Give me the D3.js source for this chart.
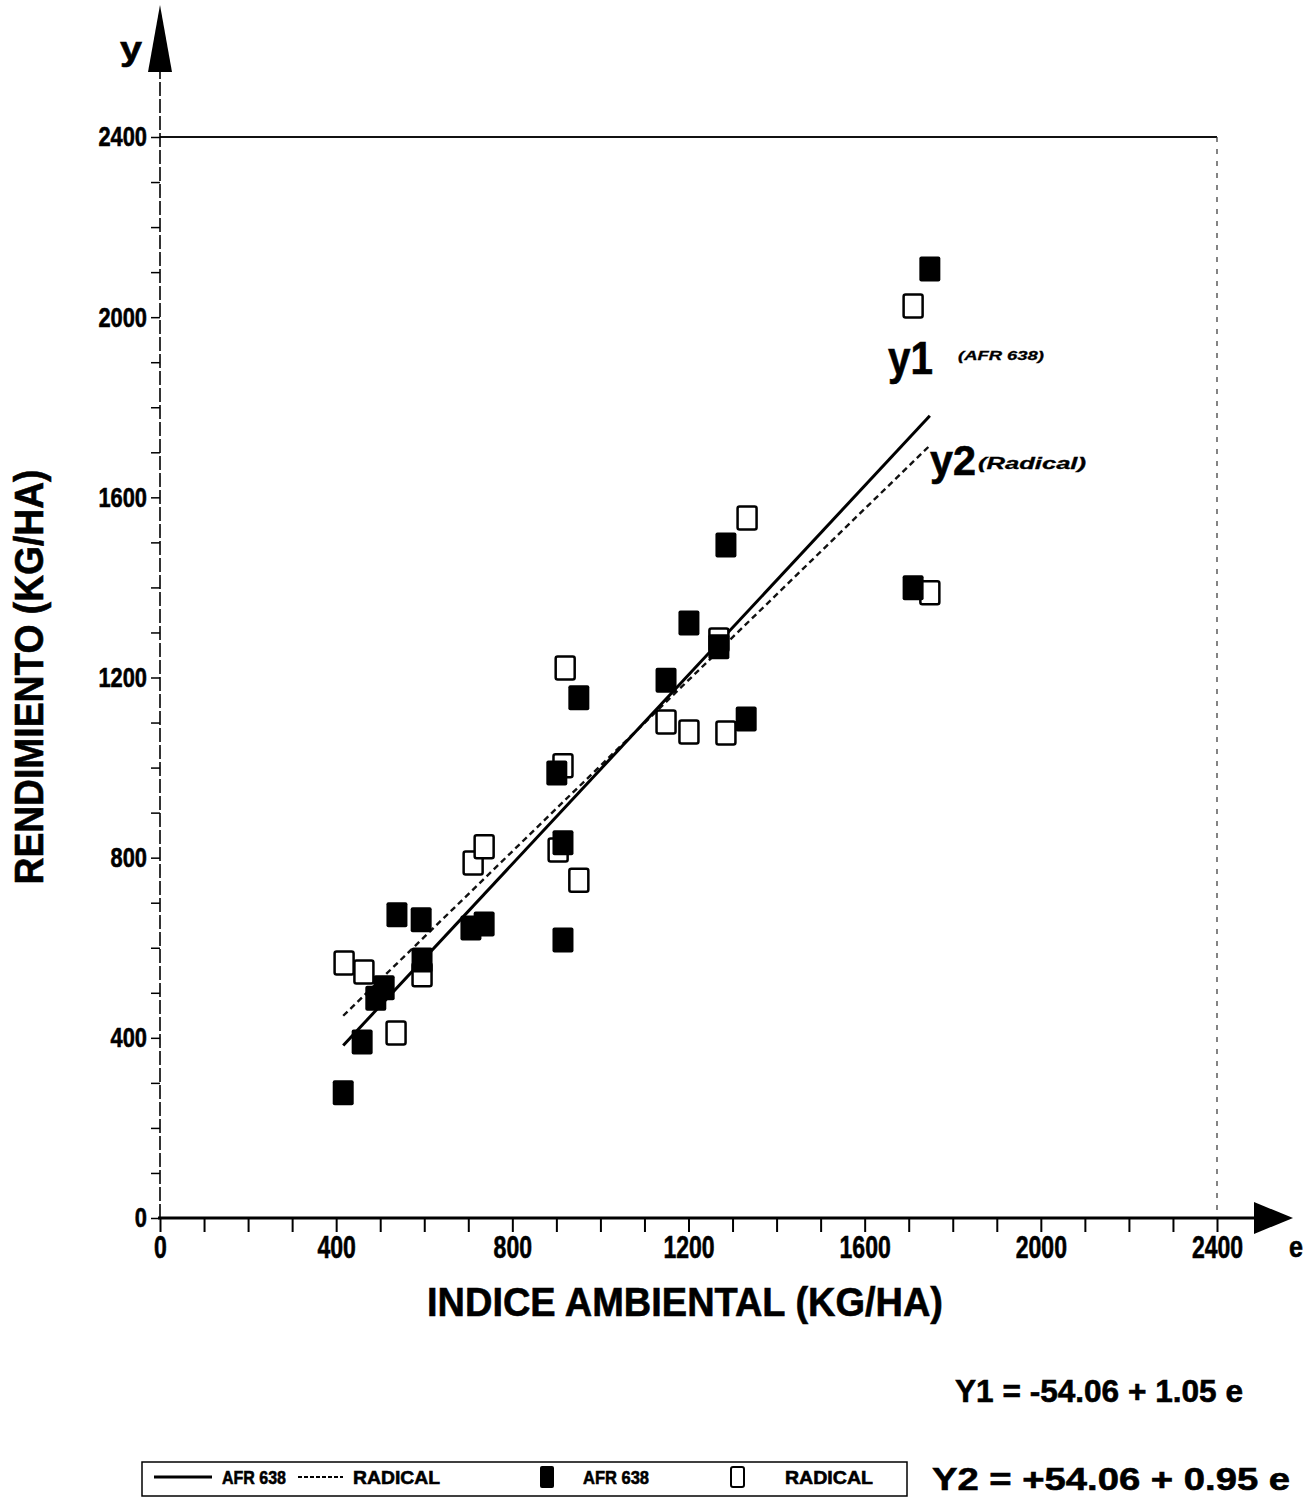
<!DOCTYPE html>
<html>
<head>
<meta charset="utf-8">
<script src="https://cdn.jsdelivr.net/npm/d3@7"></script>
<style>
	body { margin: 0; background: #fff; }
	svg text { font-family: "Liberation Sans", Arial, sans-serif; font-weight: bold; fill: #000; stroke: #000; stroke-width: 0.6px; }
</style>
</head>
<body>
<div id="chart"></div>
<script>
// environmental index (e) and yield for each genotype
const afrE = [416, 459, 490, 509, 538, 593, 595, 706, 736, 901, 915, 915, 951, 1149, 1201, 1269, 1285, 1331, 1710, 1748];
const afrYield = [278, 391, 488, 511, 673, 662, 573, 644, 653, 988, 833, 617, 1155, 1194, 1321, 1268, 1494, 1108, 1399, 2107];
const radE = [418, 463, 536, 595, 711, 736, 904, 951, 915, 920, 1149, 1201, 1285, 1333, 1269, 1710, 1748];
const radYield = [566, 546, 411, 540, 788, 824, 817, 750, 1004, 1221, 1101, 1079, 1077, 1554, 1283, 2025, 1388];

// regression lines, end points
const lineE = [416, 1748];
const lineY1 = [383, 1781];
const lineY2 = [449, 1715];

const xTicks = [0, 400, 800, 1200, 1600, 2000, 2400];
const yTicks = [0, 400, 800, 1200, 1600, 2000, 2400];
const eq1 = "Y1 = -54.06 + 1.05 e";
const eq2 = "Y2 = +54.06 + 0.95 e";

const width = 1306;
const height = 1512;

const svg = d3.select("#chart")
	.append("svg")
	.attr("width", width)
	.attr("height", height);

const x = d3.scaleLinear().domain([0, 2400]).range([160, 1217]);
const y = d3.scaleLinear().domain([0, 2400]).range([1218, 137]);

// top and right frame
svg.append("line")
	.attr("x1", x(0)).attr("x2", x(2400))
	.attr("y1", y(2400)).attr("y2", y(2400))
	.attr("stroke", "#111").attr("stroke-width", 2);

svg.append("line")
	.attr("x1", x(2400)).attr("x2", x(2400))
	.attr("y1", y(2400)).attr("y2", y(0))
	.attr("stroke", "#333").attr("stroke-width", 1.2)
	.attr("stroke-dasharray", "5,7");

// x axis
const xAxis = svg.append("g")
	.attr("transform", `translate(0, ${y(0)})`)
	.call(d3.axisBottom(x)
		.tickValues(d3.range(0, 2401, 100))
		.tickSize(14)
		.tickPadding(3)
		.tickFormat((d) => xTicks.includes(d) ? d : ""));
xAxis.select(".domain").remove();
xAxis.selectAll("line").attr("stroke", "#000").attr("stroke-width", 2);
xAxis.selectAll("text")
	.attr("font-size", 32)
	.attr("transform", "scale(0.72, 1)");

svg.append("line")
	.attr("x1", x(0) - 2).attr("x2", 1262)
	.attr("y1", y(0)).attr("y2", y(0))
	.attr("stroke", "#000").attr("stroke-width", 3);

svg.append("path")
	.attr("d", `M1254,${y(0) - 16}L1293,${y(0)}L1254,${y(0) + 16}Z`)
	.attr("fill", "#000");

// y axis
const yAxis = svg.append("g")
	.attr("transform", `translate(${x(0)}, 0)`)
	.call(d3.axisLeft(y)
		.tickValues(d3.range(0, 2401, 100))
		.tickSize(9)
		.tickPadding(4)
		.tickFormat((d) => yTicks.includes(d) ? d : ""));
yAxis.select(".domain").remove();
yAxis.selectAll("line").attr("stroke", "#000").attr("stroke-width", 1.5);
yAxis.selectAll("text")
	.attr("font-size", 28)
	.attr("x", -13 / 0.78)
	.attr("transform", "scale(0.78, 1)");

svg.append("line")
	.attr("x1", x(0)).attr("x2", x(0))
	.attr("y1", y(0)).attr("y2", 70)
	.attr("stroke", "#000").attr("stroke-width", 1.6)
	.attr("stroke-dasharray", "14,3");

svg.append("path")
	.attr("d", `M${x(0) - 12},72L${x(0)},5L${x(0) + 12},72Z`)
	.attr("fill", "#000");

svg.append("text")
	.attr("x", 120).attr("y", 60)
	.attr("font-size", 34)
	.attr("textLength", 22).attr("lengthAdjust", "spacingAndGlyphs")
	.text("y");

svg.append("text")
	.attr("x", 1289).attr("y", 1257)
	.attr("font-size", 30)
	.attr("textLength", 14).attr("lengthAdjust", "spacingAndGlyphs")
	.text("e");

// axis titles
svg.append("text")
	.attr("x", 685).attr("y", 1316)
	.attr("text-anchor", "middle")
	.attr("font-size", 40)
	.attr("textLength", 516).attr("lengthAdjust", "spacingAndGlyphs")
	.text("INDICE AMBIENTAL (KG/HA)");

svg.append("text")
	.attr("transform", "translate(43, 677) rotate(-90)")
	.attr("text-anchor", "middle")
	.attr("font-size", 40)
	.attr("textLength", 415).attr("lengthAdjust", "spacingAndGlyphs")
	.text("RENDIMIENTO (KG/HA)");

// regression lines
const line1 = lineE.map((e, i) => [x(e), y(lineY1[i])]);
const line2 = lineE.map((e, i) => [x(e), y(lineY2[i])]);

svg.append("path")
	.attr("d", d3.line()(line2))
	.attr("stroke", "#111").attr("stroke-width", 2.4)
	.attr("stroke-dasharray", "6,4")
	.attr("fill", "none");

svg.append("path")
	.attr("d", d3.line()(line1))
	.attr("stroke", "#000").attr("stroke-width", 3)
	.attr("fill", "none");

// points
const mw = 21;
const mh = 25;

svg.selectAll(".radical").data(radE).enter()
	.append("rect")
	.attr("class", "radical")
	.attr("x", (e) => x(e) - mw / 2 + 1)
	.attr("y", (e, i) => y(radYield[i]) - mh / 2 + 1)
	.attr("width", mw - 2).attr("height", mh - 2)
	.attr("rx", 2)
	.attr("fill", "#fff")
	.attr("stroke", "#000").attr("stroke-width", 2.5);

svg.selectAll(".afr").data(afrE).enter()
	.append("rect")
	.attr("class", "afr")
	.attr("x", (e) => x(e) - mw / 2)
	.attr("y", (e, i) => y(afrYield[i]) - mh / 2)
	.attr("width", mw).attr("height", mh)
	.attr("rx", 2)
	.attr("fill", "#000");

// line labels
svg.append("text")
	.attr("x", 888).attr("y", 374)
	.attr("font-size", 46)
	.attr("textLength", 45).attr("lengthAdjust", "spacingAndGlyphs")
	.text("y1");
svg.append("text")
	.attr("x", 958).attr("y", 360)
	.attr("font-size", 13).attr("font-style", "italic")
	.style("stroke-width", "0.3px")
	.attr("textLength", 86).attr("lengthAdjust", "spacingAndGlyphs")
	.text("(AFR 638)");

svg.append("text")
	.attr("x", 930).attr("y", 475)
	.attr("font-size", 42)
	.attr("textLength", 46).attr("lengthAdjust", "spacingAndGlyphs")
	.text("y2");
svg.append("text")
	.attr("x", 978).attr("y", 469)
	.attr("font-size", 16).attr("font-style", "italic")
	.style("stroke-width", "0.3px")
	.attr("textLength", 108).attr("lengthAdjust", "spacingAndGlyphs")
	.text("(Radical)");

// equations
svg.append("text")
	.attr("x", 955).attr("y", 1402)
	.attr("font-size", 32)
	.attr("textLength", 288).attr("lengthAdjust", "spacingAndGlyphs")
	.text(eq1);
svg.append("text")
	.attr("x", 932).attr("y", 1490)
	.attr("font-size", 32)
	.attr("textLength", 358).attr("lengthAdjust", "spacingAndGlyphs")
	.text(eq2);

// legend
const legend = svg.append("g");
legend.append("rect")
	.attr("x", 142).attr("y", 1462)
	.attr("width", 765).attr("height", 34)
	.attr("fill", "none")
	.attr("stroke", "#000").attr("stroke-width", 1.5);

const ly = 1477;
legend.append("line")
	.attr("x1", 154).attr("x2", 212).attr("y1", ly).attr("y2", ly)
	.attr("stroke", "#000").attr("stroke-width", 3);
legend.append("line")
	.attr("x1", 298).attr("x2", 343).attr("y1", ly).attr("y2", ly)
	.attr("stroke", "#000").attr("stroke-width", 2)
	.attr("stroke-dasharray", "4,2");
legend.append("rect")
	.attr("x", 540).attr("y", 1466)
	.attr("width", 14).attr("height", 22)
	.attr("rx", 2)
	.attr("fill", "#000");
legend.append("rect")
	.attr("x", 731).attr("y", 1467)
	.attr("width", 13).attr("height", 20)
	.attr("rx", 2)
	.attr("fill", "#fff")
	.attr("stroke", "#000").attr("stroke-width", 2);

const legendText = [
	{ x: 222, w: 64, t: "AFR 638" },
	{ x: 353, w: 87, t: "RADICAL" },
	{ x: 583, w: 66, t: "AFR 638" },
	{ x: 785, w: 88, t: "RADICAL" },
];
legend.selectAll(".ltext").data(legendText).enter()
	.append("text")
	.attr("class", "ltext")
	.attr("x", (d) => d.x).attr("y", ly + 7)
	.attr("font-size", 19)
	.attr("textLength", (d) => d.w).attr("lengthAdjust", "spacingAndGlyphs")
	.text((d) => d.t);
</script>
</body>
</html>
